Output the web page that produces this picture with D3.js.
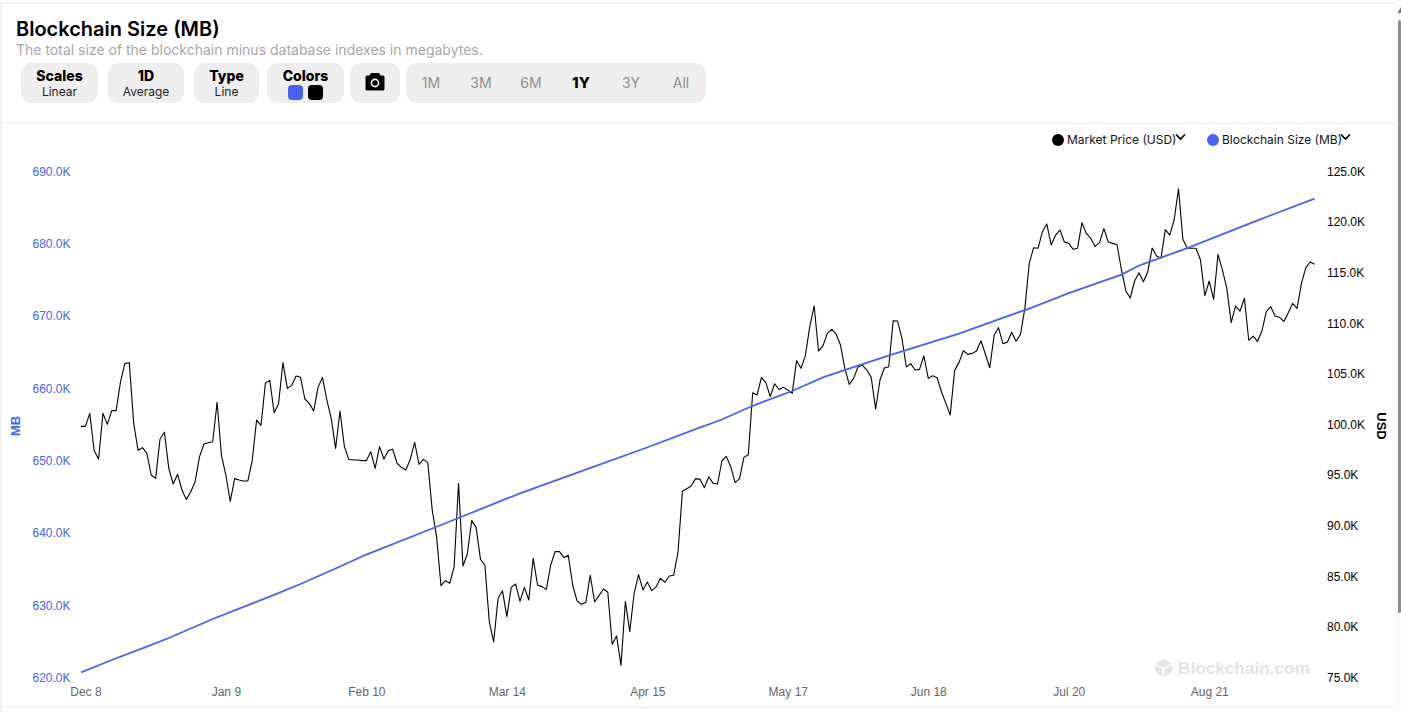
<!DOCTYPE html>
<html>
<head>
<meta charset="utf-8">
<title>Blockchain Size (MB)</title>
<script src="https://cdn.jsdelivr.net/npm/d3@7"></script>
<style>
  html, body { margin: 0; padding: 0; background: #fff; overflow: hidden; }
  svg { display: block; }
  text { font-family: Inter, sans-serif; }
  .axis text { font-family: "Liberation Sans", Arial, sans-serif; font-size: 12px; }
  .axis path, .axis line { display: none; }
</style>
</head>
<body>
<svg id="chart" width="1401" height="712"></svg>
<script>
// market price, thousands of USD, one value per day from Dec 7
var priceValues = [
  99.77, 99.77, 101.05, 97.36, 96.54, 101.05, 99.97, 101.32, 101.32, 104.18,
  105.99, 106.06, 100.06, 97.40, 97.66, 97.10, 94.96, 94.63, 98.52, 99.18,
  95.62, 94.07, 95.03, 93.48, 92.55, 93.31, 94.30, 96.77, 98.02, 98.15,
  98.25, 102.14, 96.87, 94.96, 92.36, 94.60, 94.47, 94.37, 94.37, 96.38,
  100.39, 99.87, 104.02, 104.31, 101.12, 102.01, 106.06, 103.52, 103.82, 104.74,
  104.61, 102.47, 102.04, 101.28, 103.62, 104.61, 102.37, 100.56, 97.59, 101.28,
  97.76, 96.51, 96.45, 96.45, 96.38, 96.38, 97.27, 95.62, 97.76, 96.54,
  97.37, 97.50, 96.12, 95.72, 95.46, 96.51, 98.19, 96.02, 96.51, 96.18,
  91.50, 88.87, 84.03, 84.52, 84.26, 85.90, 94.14, 85.97, 87.16, 90.45,
  89.79, 86.63, 86.07, 80.47, 78.46, 82.78, 83.53, 80.96, 83.86, 84.19,
  82.48, 83.86, 82.61, 86.73, 84.09, 83.93, 83.66, 86.07, 87.39, 87.39,
  86.79, 87.02, 84.09, 82.51, 82.18, 82.38, 85.05, 82.41, 83.04, 83.70,
  83.37, 78.23, 79.05, 76.15, 82.45, 79.48, 83.27, 85.11, 83.60, 84.39,
  83.53, 83.90, 84.75, 84.36, 84.98, 85.05, 87.39, 93.38, 93.61, 93.88,
  94.60, 94.53, 93.71, 94.79, 94.13, 94.07, 96.37, 96.80, 95.78, 94.20,
  94.60, 96.70, 96.97, 103.09, 102.86, 104.61, 104.08, 102.70, 103.98, 103.42,
  103.62, 103.36, 103.03, 106.26, 105.50, 106.75, 109.62, 111.66, 107.21, 107.71,
  108.96, 109.35, 108.89, 107.80, 105.50, 103.92, 104.51, 105.66, 105.80, 105.33,
  104.61, 101.48, 104.35, 105.53, 105.66, 110.21, 110.18, 108.46, 105.63, 105.96,
  105.33, 105.40, 106.72, 104.51, 104.77, 104.58, 103.19, 102.04, 100.89, 105.30,
  106.09, 107.24, 106.88, 106.98, 107.21, 108.23, 106.92, 105.56, 108.76, 109.52,
  107.94, 108.07, 109.06, 108.17, 108.86, 111.43, 115.87, 117.42, 117.36, 119.00,
  119.76, 117.69, 118.67, 119.17, 117.98, 117.85, 117.26, 117.36, 119.89, 118.84,
  118.35, 117.55, 117.92, 119.30, 117.98, 117.85, 117.72, 115.22, 113.17, 112.45,
  114.13, 114.95, 114.06, 115.05, 117.39, 116.60, 116.37, 119.20, 118.67, 120.16,
  123.25, 118.25, 117.36, 117.36, 117.36, 116.20, 112.68, 114.13, 112.32, 116.76,
  115.22, 113.40, 110.01, 111.66, 111.16, 112.42, 108.27, 108.69, 108.17, 109.19,
  111.10, 111.59, 110.67, 110.54, 110.14, 111.00, 111.92, 111.43, 113.90, 115.45,
  116.01, 115.78
];

var sizeDays = [0, 7, 15, 20, 30, 36, 43, 50, 58, 65, 80, 86, 100, 114, 128, 140,
  146, 153, 162, 169, 177, 185, 200, 213, 216, 225, 237, 241, 252, 267, 281];
var sizeValues = [620.65, 622.35, 624.20, 625.39, 628.02, 629.47, 631.13, 632.86, 635.01, 636.94, 640.54, 642.00,
  645.41, 648.49, 651.54, 654.30, 655.62, 657.52, 659.56, 661.45, 663.08, 664.67, 667.51, 670.35, 670.97, 673.11,
  675.67, 676.92, 679.34, 682.93, 686.18];

var sizeTicks = [620, 630, 640, 650, 660, 670, 680, 690];
var priceTicks = [75, 80, 85, 90, 95, 100, 105, 110, 115, 120, 125];
var dateTicks = ["2024-12-08", "2025-01-09", "2025-02-10", "2025-03-14", "2025-04-15",
  "2025-05-17", "2025-06-18", "2025-07-20", "2025-08-21"];

var buttonLabels = ["Scales", "1D", "Type", "Colors"];
var buttonValues = ["Linear", "Average", "Line", ""];
var rangeLabels = ["1M", "3M", "6M", "1Y", "3Y", "All"];

var BLUE = "#4762f1";
var svg = d3.select("#chart");
var parseDay = d3.utcParse("%Y-%m-%d");
var startDay = parseDay("2024-12-07");

function dayOffset(n) {
  return d3.utcDay.offset(startDay, n);
}

var x = d3.scaleUtc().domain([startDay, dayOffset(281)]).range([81, 1314.6]);
var yLeft = d3.scaleLinear().domain([620, 690]).range([677, 171]);
var yRight = d3.scaleLinear().domain([75, 125]).range([677, 171]);

// page frame
svg.append("rect").attr("x", 0).attr("y", 2).attr("width", 1396).attr("height", 1.5).attr("fill", "#eee");
svg.append("rect").attr("x", 0).attr("y", 2).attr("width", 1.5).attr("height", 710).attr("fill", "#eee");
svg.append("rect").attr("x", 0).attr("y", 123).attr("width", 1396).attr("height", 1).attr("fill", "#eee");
svg.append("rect").attr("x", 0).attr("y", 707).attr("width", 1396).attr("height", 1).attr("fill", "#eee");
svg.append("rect").attr("x", 1396).attr("y", 0).attr("width", 5).attr("height", 712).attr("fill", "#fafafa");
svg.append("rect").attr("x", 1398).attr("y", 20).attr("width", 3).attr("height", 593).attr("rx", 1.5).attr("fill", "#8f8f8f");
svg.append("path").attr("d", "M1401 7L1397.5 13H1401Z").attr("fill", "#777");

// header
svg.append("text").attr("x", 16).attr("y", 36).attr("font-size", 20).attr("font-weight", 600).attr("fill", "#000")
  .text("Blockchain Size (MB)");
svg.append("text").attr("x", 16).attr("y", 55).attr("font-size", 14).attr("fill", "#a6a6a6")
  .text("The total size of the blockchain minus database indexes in megabytes.");

var buttonBoxes = [[21, 77], [108, 76], [194, 65], [267, 77]];
buttonLabels.forEach(function (label, i) {
  var bx = buttonBoxes[i][0], bw = buttonBoxes[i][1];
  svg.append("rect").attr("x", bx).attr("y", 63).attr("width", bw).attr("height", 40).attr("rx", 11).attr("fill", "#eee");
  svg.append("text").attr("x", bx + bw / 2).attr("y", 81).attr("text-anchor", "middle")
    .attr("font-size", 14).attr("font-weight", 800).attr("fill", "#000").text(label);
  svg.append("text").attr("x", bx + bw / 2).attr("y", 96).attr("text-anchor", "middle")
    .attr("font-size", 12).attr("fill", "#222").text(buttonValues[i]);
});
svg.append("rect").attr("x", 288).attr("y", 85).attr("width", 15).attr("height", 15).attr("rx", 4).attr("fill", BLUE);
svg.append("rect").attr("x", 308).attr("y", 85).attr("width", 15).attr("height", 15).attr("rx", 4).attr("fill", "#000");

// camera button
svg.append("rect").attr("x", 350).attr("y", 63).attr("width", 50).attr("height", 40).attr("rx", 11).attr("fill", "#eee");
svg.append("path").attr("fill", "#000").attr("d", "M367 75.5h2.5l1.5-2.5h8l1.5 2.5h2.5a1.5 1.5 0 0 1 1.5 1.5v12a1.5 1.5 0 0 1-1.5 1.5h-16a1.5 1.5 0 0 1-1.5-1.5v-12a1.5 1.5 0 0 1 1.5-1.5z");
svg.append("circle").attr("cx", 375).attr("cy", 83).attr("r", 3.6).attr("fill", "none").attr("stroke", "#fff").attr("stroke-width", 1.6);

// range selector
svg.append("rect").attr("x", 406).attr("y", 63).attr("width", 300).attr("height", 40).attr("rx", 11).attr("fill", "#eee");
rangeLabels.forEach(function (label, i) {
  svg.append("text").attr("x", 431 + i * 50).attr("y", 88).attr("text-anchor", "middle")
    .attr("font-size", label == "1Y" ? 15 : 14).attr("font-weight", label == "1Y" ? 800 : 400)
    .attr("fill", label == "1Y" ? "#000" : "#909090").text(label);
});

// watermark
svg.append("path").attr("fill", "#e3e3e3").attr("d", "M1163.5 659l8 4.5-8 4.500-8-4.500zM1155 665l7.500 4.200v7.800l-4-2.300-3.500-4zM1172 665l-7.500 4.200v7.800l4-2.300 3.500-4z");
svg.append("text").attr("x", 1178).attr("y", 674).attr("font-size", 17.2).attr("font-weight", 700)
  .style("font-family", "'Liberation Sans', Arial, sans-serif").attr("fill", "#e3e3e3").text("Blockchain.com");

// axes
var kFormat = function (d) { return d3.format(".1f")(d) + "K"; };

var gLeft = svg.append("g").attr("class", "axis").attr("transform", "translate(76.500,0.500)")
  .call(d3.axisLeft(yLeft).tickValues(sizeTicks).tickFormat(kFormat).tickSize(0).tickPadding(6));
gLeft.selectAll("text").attr("fill", BLUE);

var gRight = svg.append("g").attr("class", "axis").attr("transform", "translate(1321,0.500)")
  .call(d3.axisRight(yRight).tickValues(priceTicks).tickFormat(kFormat).tickSize(0).tickPadding(6));
gRight.selectAll("text").attr("fill", "#000");

var gBottom = svg.append("g").attr("class", "axis").attr("transform", "translate(0,687)")
  .call(d3.axisBottom(x).tickValues(dateTicks.map(parseDay)).tickFormat(d3.utcFormat("%b %-d")).tickSize(0).tickPadding(0));
gBottom.selectAll("text").attr("fill", "#666");

svg.append("text").attr("transform", "translate(20,426) rotate(-90)").attr("text-anchor", "middle")
  .style("font-family", "'Liberation Sans', Arial, sans-serif").attr("font-size", 13).attr("font-weight", 700)
  .attr("fill", BLUE).text("MB");
svg.append("text").attr("transform", "translate(1377,426) rotate(90)").attr("text-anchor", "middle")
  .style("font-family", "'Liberation Sans', Arial, sans-serif").attr("font-size", 13).attr("font-weight", 700)
  .attr("fill", "#000").text("USD");

// lines
var priceLine = d3.line()
  .x(function (d, i) { return x(dayOffset(i)); })
  .y(function (d) { return yRight(d); });
var sizeLine = d3.line()
  .x(function (d) { return x(dayOffset(d)); })
  .y(function (d, i) { return yLeft(sizeValues[i]); });

svg.append("path").datum(priceValues).attr("d", priceLine)
  .attr("fill", "none").attr("stroke", "#000").attr("stroke-width", 1.1).attr("stroke-linejoin", "round");
svg.append("path").datum(sizeDays).attr("d", sizeLine)
  .attr("fill", "none").attr("stroke", BLUE).attr("stroke-width", 1.8);

// legend
var legendItems = [
  { name: "Market Price (USD)", color: "#000", dot: 1058, label: 1067, arrow: 1176 },
  { name: "Blockchain Size (MB)", color: BLUE, dot: 1213, label: 1222, arrow: 1341 }
];
legendItems.forEach(function (item) {
  svg.append("circle").attr("cx", item.dot).attr("cy", 140).attr("r", 6).attr("fill", item.color);
  svg.append("text").attr("x", item.label).attr("y", 144).attr("font-size", 12).attr("fill", "#111").text(item.name);
  svg.append("path").attr("d", "M" + item.arrow + " 134.500l4.500 4.500 4.500-4.500")
    .attr("fill", "none").attr("stroke", "#000").attr("stroke-width", 1.7);
});
</script>
</body>
</html>
